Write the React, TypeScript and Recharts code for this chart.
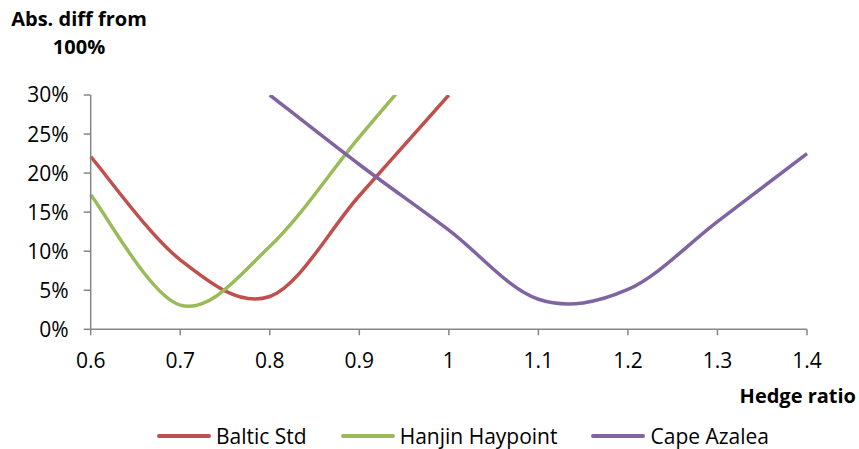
import React from 'react';
import { LineChart, Line, XAxis, YAxis, Legend } from 'recharts';

const hedgeRatio = [0.6, 0.7, 0.8, 0.9, 1.0, 1.1, 1.2, 1.3, 1.4];
const balticStd: (number | null)[] = [22.1, 8.9, 4.2, 17.1, 30.0, null, null, null, null];
const hanjinHaypoint: (number | null)[] = [17.2, 3.1, 10.6, 24.6, 38.0, null, null, null, null];
const capeAzalea: (number | null)[] = [null, null, 30.0, 21.1, 12.7, 3.85, 5.1, 13.8, 22.5];
const yTicks = [0, 5, 10, 15, 20, 25, 30];

const seriesNames = ['Baltic Std', 'Hanjin Haypoint', 'Cape Azalea'];
const seriesColors = ['#C0504D', '#9BBB59', '#8064A2'];

const data = hedgeRatio.map((x, i) => ({
  x,
  baltic: balticStd[i],
  hanjin: hanjinHaypoint[i],
  cape: capeAzalea[i],
}));

const FONT = '"Open Sans", sans-serif';
const AXIS = '#868686';

// Excel-style smoothed line (Catmull-Rom through the points)
function excelCurve(context: any) {
  let pts: number[][] = [];
  return {
    areaStart() {},
    areaEnd() {},
    lineStart() {
      pts = [];
    },
    point(x: number, y: number) {
      pts.push([+x, +y]);
    },
    lineEnd() {
      const n = pts.length;
      if (n === 0) return;
      context.moveTo(pts[0][0], pts[0][1]);
      if (n === 1) {
        context.lineTo(pts[0][0], pts[0][1]);
        return;
      }
      for (let i = 0; i < n - 1; i++) {
        const p0 = pts[Math.max(i - 1, 0)];
        const p1 = pts[i];
        const p2 = pts[i + 1];
        const p3 = pts[Math.min(i + 2, n - 1)];
        context.bezierCurveTo(
          p1[0] + (p2[0] - p0[0]) / 6,
          p1[1] + (p2[1] - p0[1]) / 6,
          p2[0] - (p3[0] - p1[0]) / 6,
          p2[1] - (p3[1] - p1[1]) / 6,
          p2[0],
          p2[1]
        );
      }
    },
  };
}

const LegendContent = (props: any) => {
  const payload = [...(props.payload || [])].sort(
    (a: any, b: any) => seriesNames.indexOf(a.value) - seriesNames.indexOf(b.value)
  );
  return (
    <div style={{ display: 'flex', alignItems: 'center', height: 30, fontFamily: FONT, fontSize: 21, color: '#000' }}>
      {payload.map((p: any, i: number) => (
        <div key={i} style={{ display: 'flex', alignItems: 'center', marginRight: 34 }}>
          <div style={{ width: 54, height: 4, background: p.color, borderRadius: 2, marginRight: 5 }} />
          <span style={{ whiteSpace: 'nowrap' }}>{p.value}</span>
        </div>
      ))}
    </div>
  );
};

export default function App() {
  return (
    <div style={{ position: 'absolute', left: 0, top: 0, width: 859, height: 449, background: '#fff' }}>
      <LineChart
        width={859}
        height={449}
        data={data}
        margin={{ top: 95, right: 52, left: 0, bottom: 0 }}
      >
        <XAxis
          dataKey="x"
          type="number"
          domain={[0.6, 1.4]}
          ticks={hedgeRatio}
          tickFormatter={(v: number) => String(v)}
          height={119.7}
          stroke={AXIS}
          strokeWidth={1.5}
          tickSize={6}
          tickMargin={18}
          tick={{ fontFamily: FONT, fontSize: 21, fill: '#000' }}
          label={{
            content: () => (
              <text x={856} y={403} textAnchor="end" fontFamily={FONT} fontSize={20} fontWeight="bold" fill="#000">
                Hedge ratio
              </text>
            ),
          }}
        />
        <YAxis
          type="number"
          domain={[0, 30]}
          ticks={yTicks}
          allowDataOverflow
          width={90.7}
          stroke={AXIS}
          strokeWidth={1.5}
          tickSize={7}
          tickMargin={15}
          tickFormatter={(v: number) => `${v}%`}
          tick={{ fontFamily: FONT, fontSize: 21, fill: '#000' }}
          label={{
            content: () => (
              <g>
                <text x={79} y={26} textAnchor="middle" fontFamily={FONT} fontSize={20} fontWeight="bold" fill="#000">
                  Abs. diff from
                </text>
                <text x={79} y={54} textAnchor="middle" fontFamily={FONT} fontSize={20} fontWeight="bold" fill="#000">
                  100%
                </text>
              </g>
            ),
          }}
        />
        <Legend
          layout="horizontal"
          verticalAlign="middle"
          align="center"
          content={<LegendContent />}
          wrapperStyle={{ position: 'absolute', left: 157, top: 421, width: 680, height: 30 }}
        />
        <Line
          dataKey="baltic"
          name={seriesNames[0]}
          stroke={seriesColors[0]}
          strokeWidth={3.5}
          type={excelCurve as any}
          dot={false}
          activeDot={false}
          isAnimationActive={false}
        />
        <Line
          dataKey="hanjin"
          name={seriesNames[1]}
          stroke={seriesColors[1]}
          strokeWidth={3.5}
          type={excelCurve as any}
          dot={false}
          activeDot={false}
          isAnimationActive={false}
        />
        <Line
          dataKey="cape"
          name={seriesNames[2]}
          stroke={seriesColors[2]}
          strokeWidth={3.5}
          type={excelCurve as any}
          dot={false}
          activeDot={false}
          isAnimationActive={false}
        />
      </LineChart>
    </div>
  );
}
